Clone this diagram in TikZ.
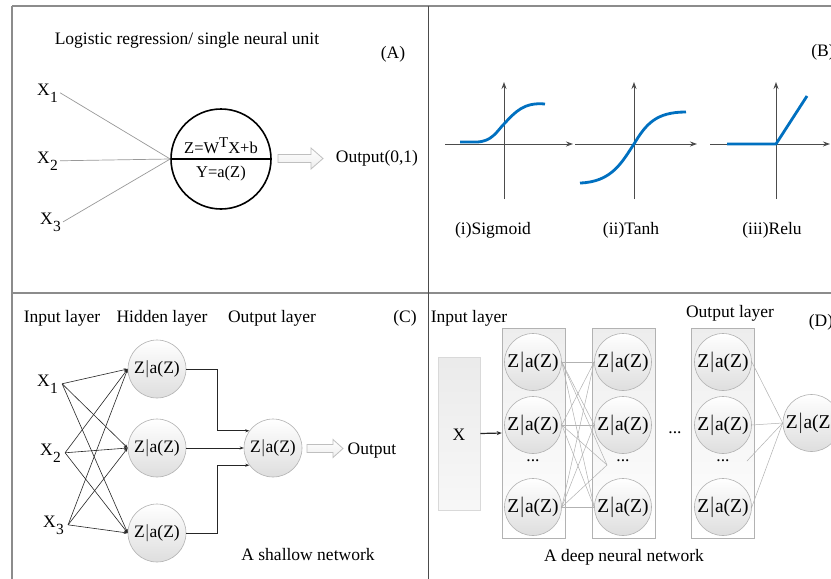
\documentclass[tikz,border=0pt]{standalone}
\usepackage{fontspec}
\setmainfont{Liberation Serif}
\usetikzlibrary{arrows.meta,calc}
\definecolor{curveblue}{RGB}{0,112,192}
\newcommand{\Xsub}[1]{X\kern0.3pt\raisebox{-7pt}{\fontsize{15.5}{16}\selectfont #1}}
\newcommand{\zaz}{Z$|$a(Z)}
\begin{document}
\begin{tikzpicture}[x=1pt,y=-1pt,
  every node/.style={font=\fontsize{17.5}{20}\selectfont, inner sep=1pt},
  hframe/.style={draw=black!45, line width=1.2pt},
  vframe/.style={draw=black!70, line width=1pt},
  xlabel/.style={anchor=base west, inner sep=2pt},
  wireA/.style={draw=black!40, line width=0.7pt},
  wireC/.style={draw=black!85, line width=0.6pt, -{Stealth[length=4pt,width=3pt]}},
  wireD/.style={draw=black!30, line width=0.5pt},
  hollowarrow/.style={draw=black!25, line width=0.8pt, top color=white, bottom color=black!7},
  axisB/.style={draw=black!70, line width=0.9pt, -{Stealth[length=7pt,width=5pt]}},
  actcurve/.style={draw=curveblue, line width=2.8pt, line join=round},
  neuronC/.style={circle, draw=black!30, line width=0.6pt, top color=white, bottom color=black!13, minimum size=58pt, inner sep=0pt},
  neuronD/.style={circle, draw=black!30, line width=0.6pt, top color=white, bottom color=black!13, minimum size=57pt, inner sep=0pt, font=\fontsize{19.5}{22}\selectfont},
  layerbox/.style={draw=black!30, line width=0.6pt, top color=black!7, bottom color=white, minimum width=63pt, minimum height=210pt, inner sep=0pt},
  inbox/.style={draw=black!15, line width=0.6pt, top color=black!8, bottom color=black!3, minimum width=42pt, minimum height=153pt, inner sep=0pt},
]
\clip (0,0) rectangle (831,579);
\fill[white] (0,0) rectangle (831,579);

% frames
\draw[hframe] (12,6) -- (831,6);
\draw[hframe] (12,293) -- (831,293);
\draw[hframe] (12,6) -- (12,579);
\draw[vframe] (428,6) -- (428,579);

% ---------- Panel A ----------
\node (titleA) at (187,40) {Logistic regression/ single neural unit};
\node (labA) at (393,54) {(A)};
\node[xlabel] (ax1) at (35,95) {\Xsub{1}};
\node[xlabel] (ax2) at (35,163) {\Xsub{2}};
\node[xlabel] (ax3) at (38,224) {\Xsub{3}};
\node[circle, draw=black, line width=1.6pt, minimum size=100pt, inner sep=0pt] (nu) at (221,159) {};
\draw[line width=1.6pt] (nu.west) -- (nu.east);
\node[font=\fontsize{16.5}{18}\selectfont] (zeq) at (221,146) {Z=W\raisebox{6pt}{\fontsize{15}{16}\selectfont T}X+b};
\node[font=\fontsize{16.5}{18}\selectfont] (yeq) at (221,174) {Y=a(Z)};
\draw[wireA] (ax1.east) -- (nu.west);
\draw[wireA] (ax2.east) -- (nu.west);
\draw[wireA] (ax3.east) -- (nu.west);
\draw[hollowarrow] (278,154.5) -- (311,154.5) -- (311,148) -- (323,158.5) -- (311,169) -- (311,162.5) -- (278,162.5) -- cycle;
\node (outA) at (377,158) {Output(0,1)};

% ---------- Panel B ----------
\node (labB) at (823,52) {(B)};
\draw[axisB] (445,144) -- (573,144);
\draw[axisB] (504,199) -- (504,82);
\draw[axisB] (575,144) -- (697,144);
\draw[axisB] (634,199) -- (634,82);
\draw[axisB] (710,144) -- (830,144);
\draw[axisB] (776,199) -- (776,82);
\draw[actcurve] (460,142) -- (476,142) .. controls (492,142) and (497,131) .. (504,124) .. controls (515,112) and (524,102) .. (545,104);
\draw[actcurve] (580,183) .. controls (612,182) and (622,162) .. (634,144) .. controls (646,124) and (656,112) .. (686,112);
\draw[actcurve] (727,144) -- (776,144) -- (807,96);
\node (sig) at (493,230) {(i)Sigmoid};
\node (tanh) at (631,230) {(ii)Tanh};
\node (relu) at (772,230) {(iii)Relu};

% ---------- Panel C ----------
\node (inC) at (62,318) {Input layer};
\node (hidC) at (162,318) {Hidden layer};
\node (outlC) at (272,318) {Output layer};
\node (labC) at (405,318) {(C)};
\node[xlabel, inner sep=4pt] (cx1) at (33,386) {\Xsub{1}};
\node[xlabel, inner sep=4pt] (cx2) at (36,455) {\Xsub{2}};
\node[xlabel, inner sep=4pt] (cx3) at (39,527) {\Xsub{3}};
\node[neuronC] (h1) at (157,369) {\zaz};
\node[neuronC] (h2) at (157,448) {\zaz};
\node[neuronC] (h3) at (157,533) {\zaz};
\node[neuronC] (o) at (273,448) {\zaz};
\foreach \s in {cx1,cx2,cx3}{
  \foreach \t in {h1,h2,h3}{
    \draw[wireC] (\s.east) -- (\t.west);
  }
}
\draw[wireC] (h1.east) -- ++(31,0) |- (o.144);
\draw[wireC] (h2.east) -- (o.west);
\draw[wireC] (h3.east) -- ++(31,0) |- (o.216);
\draw[hollowarrow] (307,444.5) -- (333,444.5) -- (333,439.5) -- (343,448.5) -- (333,457.5) -- (333,452.5) -- (307,452.5) -- cycle;
\node (outC) at (372,451) {Output};
\node (shallow) at (308,555) {A shallow network};

% ---------- Panel D ----------
\node (inD) at (469,318) {Input layer};
\node (outlD) at (730,313) {Output layer};
\node (labD) at (821,322) {(D)};
\node[inbox] (xbox) at (459,433.5) {};
\node (xD) at (459,435) {X};
\node[layerbox] (L1) at (533.5,433) {};
\node[layerbox] (L2) at (623.5,433) {};
\node[layerbox] (L3) at (723,433) {};
\draw[draw=black!85, line width=1.2pt, -{Stealth[length=5pt,width=4pt]}] (xbox.east) -- (L1.west);
\node[neuronD] (d11) at (533,362) {\zaz};
\node[neuronD] (d12) at (533,425) {\zaz};
\node (dt1) at (533,461) {...};
\node[neuronD] (d13) at (533,507) {\zaz};
\node[neuronD] (d21) at (623,362) {\zaz};
\node[neuronD] (d22) at (623,425) {\zaz};
\node (dt2) at (623,461) {...};
\node[neuronD] (d23) at (623,507) {\zaz};
\node[neuronD] (d31) at (723,362) {\zaz};
\node[neuronD] (d32) at (723,425) {\zaz};
\node (dt3) at (723,461) {...};
\node[neuronD] (d33) at (723,507) {\zaz};
\node (dmid) at (675,433) {...};
\node[neuronD] (fD) at (811.5,423) {\zaz};
\coordinate (c2dots) at (607,465);
\coordinate (c3dots) at (747,461);
\foreach \s in {d11,d12,d13}{
  \foreach \t in {d21,d22,d23}{
    \draw[wireD] (\s.east) -- (\t.west);
  }
  \draw[wireD] (\s.east) -- (c2dots);
}
\foreach \s in {d31,d32,d33}{
  \draw[wireD] (\s.east) -- (fD.west);
}
\draw[wireD] (c3dots) -- (fD.west);
\node (deep) at (624,557) {A deep neural network};
\end{tikzpicture}
\end{document}
